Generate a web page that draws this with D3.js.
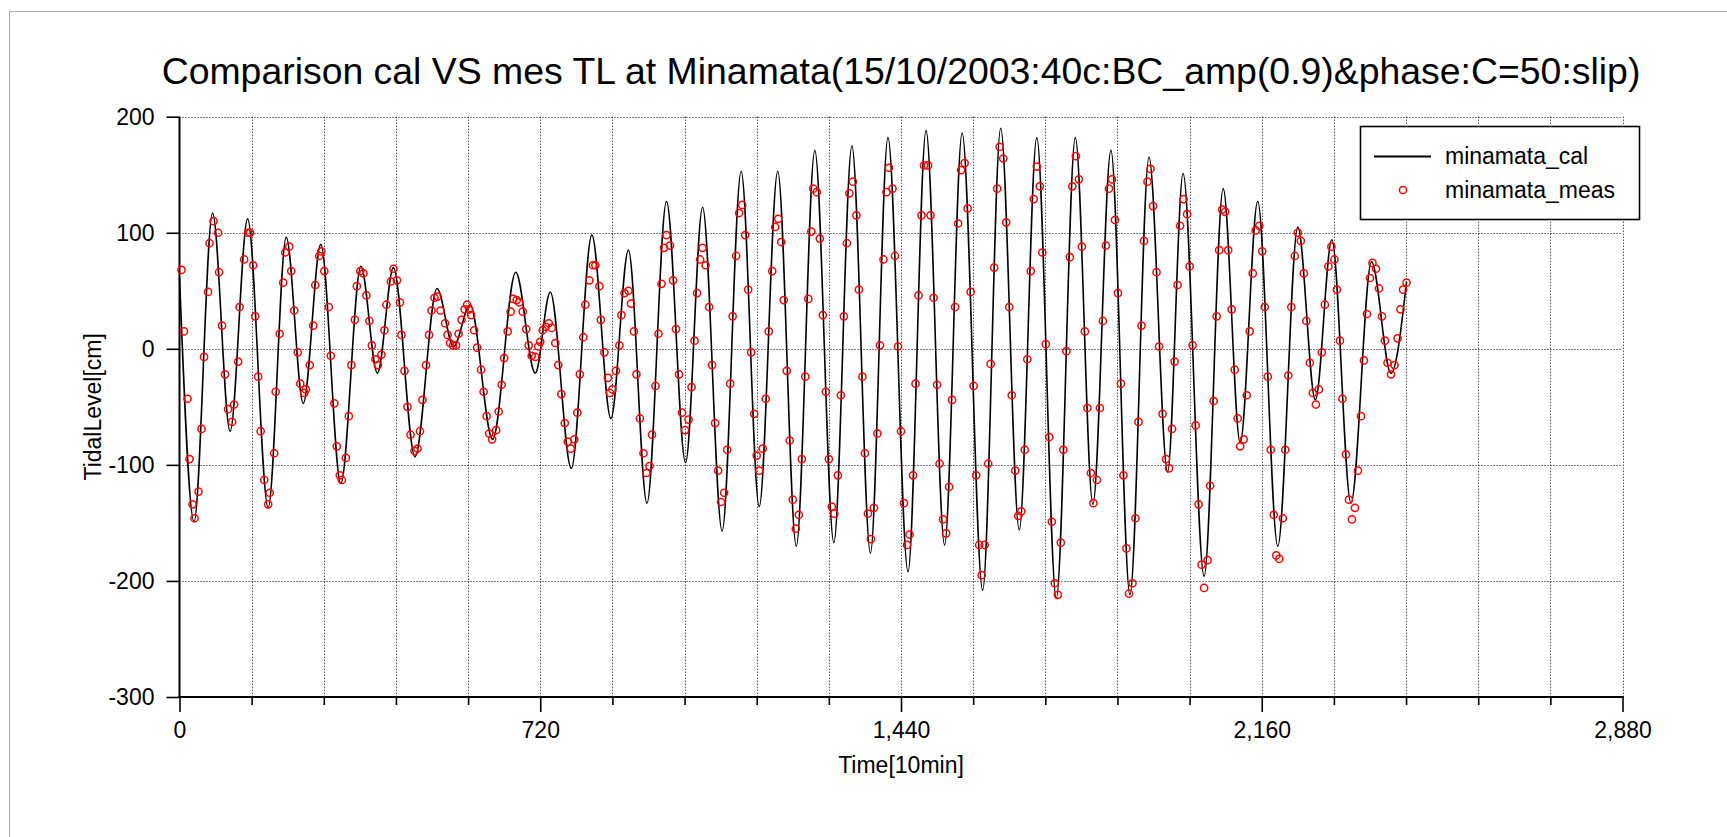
<!DOCTYPE html>
<html><head><meta charset="utf-8">
<script src="https://cdn.jsdelivr.net/npm/d3@7"></script>
<style>
body{margin:0;background:#fff;overflow:hidden}
svg{display:block}
text{font-family:"Liberation Sans",Arial,sans-serif;fill:#000}
</style></head><body>
<svg id="chart" width="1727" height="837"></svg>
<script>
const chartTitle = "Comparison cal VS mes TL at Minamata(15/10/2003:40c:BC_amp(0.9)&phase:C=50:slip)";
const xLabel = "Time[10min]";
const yLabel = "TidalLevel[cm]";
const seriesNames = ["minamata_cal", "minamata_meas"];
const xMajorTicks = [0, 720, 1440, 2160, 2880];
const xGridTicks = [144, 288, 432, 576, 720, 864, 1008, 1152, 1296, 1440, 1584, 1728, 1872, 2016, 2160, 2304, 2448, 2592, 2736, 2880];
const yTicks = [-300, -200, -100, 0, 100, 200];

// calculated tide: turning points (time [10min], level [cm])
const calTime = [0,29,66,101,136,177,213,247,282,322,362,395,427,470,514,547,580,625,671,710,740,782,823,861,896,933,972,1010,1044,1083,1121,1157,1194,1231,1268,1306,1342,1379,1414,1454,1490,1527,1562,1603,1639,1676,1711,1750,1788,1823,1859,1897,1935,1972,2003,2045,2083,2117,2152,2192,2232,2267,2300,2338,2379,2418,2449];
const calLevel = [62,-149,117,-71,112,-137,96,-47,90,-116,71,-21,70,-93,52,2,38,-78,66,-21,49,-103,98,-60,85,-133,127,-98,122,-157,153,-136,153,-170,171,-167,175,-176,182,-192,188,-169,186,-208,190,-156,182,-215,182,-134,171,-212,165,-106,151,-196,138,-81,127,-170,105,-44,94,-133,75,-21,58];

// measured tide (hourly observations)
const measTime = [4,9,16,20,26,30,38,44,49,57,60,68,77,79,85,91,97,105,109,117,120,129,137,141,147,151,157,162,169,177,180,189,192,200,207,211,219,223,229,236,241,249,252,260,267,271,279,283,289,298,302,309,314,320,324,332,338,343,350,354,361,367,373,379,384,391,396,
403,409,413,422,427,434,440,443,449,455,461,469,475,480,485,492,498,503,509,515,521,530,535,540,546,552,557,563,569,574,578,582,588,594,602,607,613,618,624,632,637,643,648,655,661,666,673,678,685,692,697,703,710,716,720,725,731,737,743,750,756,762,769,775,781,788,794,799,
806,810,818,825,830,838,841,848,855,859,864,871,878,882,888,896,901,907,912,919,926,932,938,943,950,956,962,967,972,979,985,991,997,1003,1009,1016,1022,1028,1033,1039,1044,1050,1057,1063,1069,1075,1081,1087,1093,1099,1104,1111,1117,1123,1129,1135,1141,1147,1152,1157,1164,1170,1176,1183,1189,1195,
1201,1206,1212,1218,1224,1230,1236,1242,1249,1255,1261,1265,1272,1278,1284,1290,1296,1302,1307,1314,1320,1326,1332,1337,1344,1351,1356,1363,1368,1374,1380,1386,1393,1398,1405,1411,1416,1423,1428,1434,1440,1446,1452,1457,1464,1469,1475,1481,1486,1494,1499,1505,1512,1517,1524,1530,1536,1542,1548,1554,1560,1567,1573,1579,1585,1590,1596,1601,
1607,1614,1619,1626,1632,1637,1644,1650,1656,1661,1668,1674,1680,1687,1692,1699,1705,1711,1717,1722,1729,1736,1741,1747,1753,1759,1764,1770,1777,1782,1789,1795,1801,1807,1812,1819,1824,1831,1837,1843,1849,1855,1861,1867,1873,1879,1884,1890,1895,1902,1908,1914,1920,1925,1932,1938,1943,1950,1955,1962,1969,1975,1981,1986,1992,1997,
2004,2011,2016,2022,2028,2034,2040,2045,2052,2057,2064,2070,2075,2081,2087,2093,2100,2106,2112,2117,2124,2130,2136,2142,2148,2155,2161,2166,2172,2178,2184,2189,2195,2202,2207,2213,2219,2226,2232,2238,2244,2249,2256,2262,2268,2274,2280,2286,2293,2299,2305,2310,2316,2321,2328,2334,2340,2346,2352,2358,2364,2370,2376,2381,2388,2394,2400,2406,2411,2418,2425,2431,2437,2442,2449];
const measLevel = [68,15,-43,-95,-134,-146,-123,-69,-7,49,91,110,100,66,20,-22,-52,-63,-48,-11,36,77,100,100,72,28,-24,-71,-113,-134,-124,-90,-37,13,57,83,88,67,33,-3,-30,-38,-35,-14,20,55,80,84,67,36,-6,-47,-84,-109,-113,-94,-58,-14,25,54,67,65,46,24,3,-9,-14,
-5,16,38,58,69,59,40,12,-19,-50,-74,-88,-86,-71,-44,-14,12,33,44,45,33,22,12,5,3,3,13,25,34,38,34,29,16,1,-18,-37,-58,-73,-78,-70,-54,-31,-8,15,32,43,42,40,32,17,3,-6,-7,2,6,16,19,22,18,5,-14,-39,-64,-80,-86,-78,-55,-22,
10,38,59,72,72,54,25,-3,-25,-38,-35,-19,3,29,48,50,39,15,-22,-60,-90,-107,-101,-74,-32,13,56,87,98,89,59,17,-22,-55,-70,-61,-33,7,48,77,87,72,36,-14,-64,-105,-132,-124,-87,-30,28,80,117,124,98,51,-3,-56,-92,-105,-86,-43,15,67,105,112,
92,42,-19,-79,-130,-155,-143,-95,-24,43,101,138,135,95,29,-37,-95,-136,-142,-109,-40,28,91,134,144,115,51,-24,-90,-142,-164,-137,-73,3,77,135,156,138,80,2,-71,-133,-169,-160,-109,-30,46,115,158,158,115,44,-31,-99,-147,-159,-119,-44,36,108,154,160,121,49,-32,-109,-169,-195,
-169,-99,-13,70,138,174,164,109,36,-40,-105,-144,-140,-87,-9,67,129,157,140,83,4,-76,-149,-202,-212,-167,-87,-2,79,140,166,146,88,15,-51,-107,-133,-113,-51,24,89,138,146,111,48,-30,-109,-172,-211,-202,-146,-63,20,93,144,155,123,66,2,-56,-95,-103,-69,-11,55,106,
129,116,71,3,-66,-134,-186,-206,-182,-118,-45,28,85,120,118,85,34,-18,-60,-84,-78,-40,15,65,102,106,84,36,-24,-87,-143,-178,-181,-146,-87,-23,36,80,100,93,65,24,-12,-38,-48,-35,-3,38,71,88,77,51,7,-43,-91,-130,-147,-137,-105,-58,-10,30,61,74,69,52,28,7,-12,-22,-14,9,34,51,57];

const svg = d3.select("#chart");
const FS = 23;
const x = d3.scaleLinear().domain([0, 2880]).range([179.5, 1622.5]);
const y = d3.scaleLinear().domain([-300, 200]).range([697, 116.7]);
const px = v => Math.round(v) + 0.5;

// outer dotted frame
svg.append("rect").attr("x", 9.5).attr("y", 11.5).attr("width", 1760).attr("height", 900)
  .attr("fill", "none").attr("stroke", "#555").attr("stroke-dasharray", "1,1");

// title
svg.append("text").attr("x", x(1440)).attr("y", 84).attr("text-anchor", "middle")
  .style("font-size", "37.4px").text(chartTitle);

// grid
const grid = svg.append("g").attr("stroke", "#000").attr("stroke-width", 1).attr("stroke-dasharray", "1,2");
grid.selectAll("line.h").data(yTicks.filter(d => d > -300)).join("line")
  .attr("x1", x(0)).attr("x2", x(2880)).attr("y1", d => px(y(d))).attr("y2", d => px(y(d)));
grid.selectAll("line.v").data(xGridTicks).join("line")
  .attr("x1", d => px(x(d))).attr("x2", d => px(x(d))).attr("y1", y(200)).attr("y2", y(-300));

// axes
const yAxis = svg.append("g").attr("transform", `translate(${x(0)},0)`)
  .call(d3.axisLeft(y).tickValues(yTicks).tickSize(13).tickPadding(12).tickFormat(d => String(d)));
const xAxisMinor = svg.append("g").attr("transform", `translate(0,${y(-300)})`)
  .call(d3.axisBottom(x).tickValues(xGridTicks.filter(d => !xMajorTicks.includes(d))).tickSize(8).tickFormat(""));
const xAxis = svg.append("g").attr("transform", `translate(0,${y(-300)})`)
  .call(d3.axisBottom(x).tickValues(xMajorTicks).tickSize(15).tickPadding(10).tickFormat(d3.format(",")));
[yAxis, xAxis, xAxisMinor].forEach(g => {
  g.select(".domain").remove();
  g.selectAll(".tick line").attr("stroke", "#000").attr("stroke-width", 1.6);
  g.selectAll("text").style("font-size", FS + "px").attr("fill", "#000");
});
svg.append("line").attr("x1", x(0)).attr("x2", x(0)).attr("y1", y(200)).attr("y2", y(-300) + 1)
  .attr("stroke", "#000").attr("stroke-width", 2);
svg.append("line").attr("x1", x(0) - 1).attr("x2", x(2880) + 1).attr("y1", y(-300)).attr("y2", y(-300))
  .attr("stroke", "#000").attr("stroke-width", 2);

// axis titles
svg.append("text").attr("x", x(1440)).attr("y", 773).attr("text-anchor", "middle")
  .style("font-size", FS + "px").text(xLabel);
svg.append("text").attr("transform", `translate(101,${(y(200) + y(-300)) / 2}) rotate(-90)`)
  .attr("text-anchor", "middle").style("font-size", FS + "px").text(yLabel);

// calculated line
const calData = calTime.map((t, i) => [t, calLevel[i]]);
svg.append("path").datum(calData)
  .attr("fill", "none").attr("stroke", "#000").attr("stroke-width", 1.6)
  .attr("d", d3.line().x(d => x(d[0])).y(d => y(d[1])).curve(d3.curveMonotoneX));

// measured points
const measData = measTime.map((t, i) => [t, measLevel[i]]);
svg.append("g").selectAll("circle").data(measData).join("circle")
  .attr("cx", d => x(d[0])).attr("cy", d => y(d[1])).attr("r", 3.6)
  .attr("fill", "none").attr("stroke", "#ff0000").attr("stroke-width", 1.5);

// legend
const lg = svg.append("g");
lg.append("rect").attr("x", 1360.5).attr("y", 126.5).attr("width", 279).attr("height", 93)
  .attr("fill", "#fff").attr("stroke", "#000").attr("stroke-width", 1.6);
lg.append("line").attr("x1", 1374).attr("x2", 1431).attr("y1", 156.5).attr("y2", 156.5)
  .attr("stroke", "#000").attr("stroke-width", 1.8);
lg.append("circle").attr("cx", 1403).attr("cy", 190).attr("r", 3.6)
  .attr("fill", "none").attr("stroke", "#ff0000").attr("stroke-width", 1.5);
lg.append("text").attr("x", 1445).attr("y", 164).style("font-size", FS + "px").text(seriesNames[0]);
lg.append("text").attr("x", 1445).attr("y", 198).style("font-size", FS + "px").text(seriesNames[1]);
</script>
</body></html>
